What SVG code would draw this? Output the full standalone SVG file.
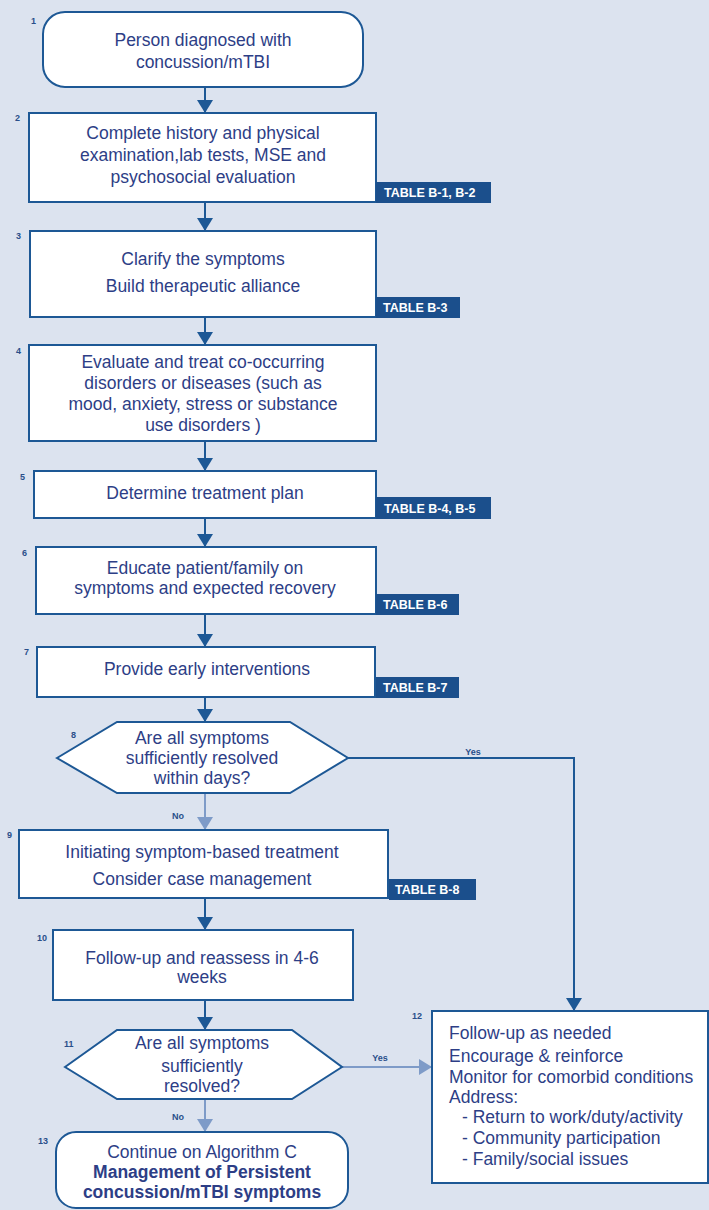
<svg xmlns="http://www.w3.org/2000/svg" width="709" height="1210" viewBox="0 0 709 1210">
<style>
.box{fill:#fff;stroke:#1d5895;stroke-width:2}
.t{font-family:"Liberation Sans",Arial,sans-serif;font-size:17.5px;fill:#2d3e86;text-anchor:middle}
.tl{font-family:"Liberation Sans",Arial,sans-serif;font-size:17.5px;fill:#2d3e86}
.b{font-weight:bold}
.n{font-family:"Liberation Sans",Arial,sans-serif;font-size:9px;font-weight:bold;fill:#2a4f8a}
.tag{fill:#1b4f8c}
.tagt{font-family:"Liberation Sans",Arial,sans-serif;font-size:12.5px;font-weight:bold;fill:#fff}
.lbl{font-family:"Liberation Sans",Arial,sans-serif;font-size:9px;font-weight:bold;fill:#2a4f8a;text-anchor:middle}
.c{fill:none;stroke:#1d5895;stroke-width:2}
.cl{fill:none;stroke:#7e9bc8;stroke-width:2}
</style>
<defs>
<marker id="ad" viewBox="0 0 13 16" refX="13" refY="8" markerWidth="13" markerHeight="16" markerUnits="userSpaceOnUse" orient="auto"><path d="M0,0 L13,8 L0,16 z" fill="#1d5895"/></marker>
<marker id="al" viewBox="0 0 13 16" refX="13" refY="8" markerWidth="13" markerHeight="16" markerUnits="userSpaceOnUse" orient="auto"><path d="M0,0 L13,8 L0,16 z" fill="#7e9bc8"/></marker>
</defs>
<rect x="0" y="0" width="709" height="1210" fill="#dce3ef"/>

<g id="connectors">
<path class="c" d="M205,87 V113" marker-end="url(#ad)"/>
<path class="c" d="M205,202 V231" marker-end="url(#ad)"/>
<path class="c" d="M205,317 V345" marker-end="url(#ad)"/>
<path class="c" d="M205,441 V471" marker-end="url(#ad)"/>
<path class="c" d="M205,518 V547" marker-end="url(#ad)"/>
<path class="c" d="M205,614 V647" marker-end="url(#ad)"/>
<path class="c" d="M205,697 V722" marker-end="url(#ad)"/>
<path class="cl" d="M205,793 V830" marker-end="url(#al)"/>
<text class="lbl" x="178" y="819">No</text>
<path class="c" d="M205,898 V930" marker-end="url(#ad)"/>
<path class="c" d="M205,1000 V1030" marker-end="url(#ad)"/>
<path class="cl" d="M205,1099 V1132" marker-end="url(#al)"/>
<text class="lbl" x="178" y="1120">No</text>
<path class="c" d="M348,758 H574 V1011" marker-end="url(#ad)"/>
<text class="lbl" x="473" y="755">Yes</text>
<path class="cl" d="M342,1067 H432" marker-end="url(#al)"/>
<text class="lbl" x="380" y="1061">Yes</text>
</g>

<g id="n1">
<rect class="box" x="43" y="12" width="320" height="75" rx="22"/>
<text class="n" x="31" y="24">1</text>
<text class="t" x="203" y="46">Person diagnosed with</text>
<text class="t" x="203" y="68">concussion/mTBI</text>
</g>

<g id="n2">
<rect class="box" x="29" y="113" width="347" height="89"/>
<text class="n" x="15" y="121">2</text>
<text class="t" x="203" y="139">Complete history and physical</text>
<text class="t" x="203" y="161">examination,lab tests, MSE and</text>
<text class="t" x="203" y="183">psychosocial evaluation</text>
<rect class="tag" x="376" y="182" width="115" height="21"/>
<text class="tagt" x="384" y="197">TABLE B-1, B-2</text>
</g>

<g id="n3">
<rect class="box" x="30" y="231" width="346" height="86"/>
<text class="n" x="16" y="239">3</text>
<text class="t" x="203" y="265">Clarify the symptoms</text>
<text class="t" x="203" y="292">Build therapeutic alliance</text>
<rect class="tag" x="376" y="297" width="84" height="21"/>
<text class="tagt" x="383" y="312">TABLE B-3</text>
</g>

<g id="n4">
<rect class="box" x="29" y="345" width="347" height="96"/>
<text class="n" x="16" y="354">4</text>
<text class="t" x="203" y="368">Evaluate and treat co-occurring</text>
<text class="t" x="203" y="389">disorders or diseases (such as</text>
<text class="t" x="203" y="410">mood, anxiety, stress or substance</text>
<text class="t" x="203" y="431">use disorders )</text>
</g>

<g id="n5">
<rect class="box" x="34" y="471" width="342" height="47"/>
<text class="n" x="20" y="480">5</text>
<text class="t" x="205" y="499">Determine treatment plan</text>
<rect class="tag" x="376" y="497" width="115" height="22"/>
<text class="tagt" x="384" y="513">TABLE B-4, B-5</text>
</g>

<g id="n6">
<rect class="box" x="36" y="547" width="340" height="67"/>
<text class="n" x="22" y="556">6</text>
<text class="t" x="205" y="574">Educate patient/family on</text>
<text class="t" x="205" y="594">symptoms and expected recovery</text>
<rect class="tag" x="376" y="594" width="83" height="21"/>
<text class="tagt" x="383" y="609">TABLE B-6</text>
</g>

<g id="n7">
<rect class="box" x="37" y="647" width="338" height="50"/>
<text class="n" x="24" y="655">7</text>
<text class="t" x="207" y="675">Provide early interventions</text>
<rect class="tag" x="376" y="677" width="83" height="21"/>
<text class="tagt" x="383" y="692">TABLE B-7</text>
</g>

<g id="n8">
<polygon class="box" points="57,758 117,722 290,722 348,758 290,793 117,793"/>
<text class="n" x="71" y="738">8</text>
<text class="t" x="202" y="744">Are all symptoms</text>
<text class="t" x="202" y="764">sufficiently resolved</text>
<text class="t" x="202" y="784">within days?</text>
</g>

<g id="n9">
<rect class="box" x="19" y="830" width="369" height="68"/>
<text class="n" x="7" y="838">9</text>
<text class="t" x="202" y="858">Initiating symptom-based treatment</text>
<text class="t" x="202" y="885">Consider case management</text>
<rect class="tag" x="389" y="879" width="87" height="21"/>
<text class="tagt" x="395" y="894">TABLE B-8</text>
</g>

<g id="n10">
<rect class="box" x="53" y="930" width="300" height="70"/>
<text class="n" x="37" y="941">10</text>
<text class="t" x="202" y="964">Follow-up and reassess in 4-6</text>
<text class="t" x="202" y="983">weeks</text>
</g>

<g id="n11">
<polygon class="box" points="65,1067 117,1030 292,1030 342,1067 292,1099 117,1099"/>
<text class="n" x="64" y="1047">11</text>
<text class="t" x="202" y="1049">Are all symptoms</text>
<text class="t" x="202" y="1072">sufficiently</text>
<text class="t" x="202" y="1092">resolved?</text>
</g>

<g id="n12">
<rect class="box" x="432" y="1011" width="276" height="172"/>
<text class="n" x="412" y="1019">12</text>
<text class="tl" x="449" y="1039">Follow-up as needed</text>
<text class="tl" x="449" y="1062">Encourage &amp; reinforce</text>
<text class="tl" x="449" y="1083">Monitor for comorbid conditions</text>
<text class="tl" x="449" y="1103">Address:</text>
<text class="tl" x="462" y="1123">- Return to work/duty/activity</text>
<text class="tl" x="462" y="1144">- Community participation</text>
<text class="tl" x="462" y="1165">- Family/social issues</text>
</g>

<g id="n13">
<rect class="box" x="56" y="1132" width="292" height="76" rx="20"/>
<text class="n" x="38" y="1144">13</text>
<text class="t" x="202" y="1158">Continue on Algorithm C</text>
<text class="t b" x="202" y="1178">Management of Persistent</text>
<text class="t b" x="202" y="1198">concussion/mTBI symptoms</text>
</g>
</svg>
